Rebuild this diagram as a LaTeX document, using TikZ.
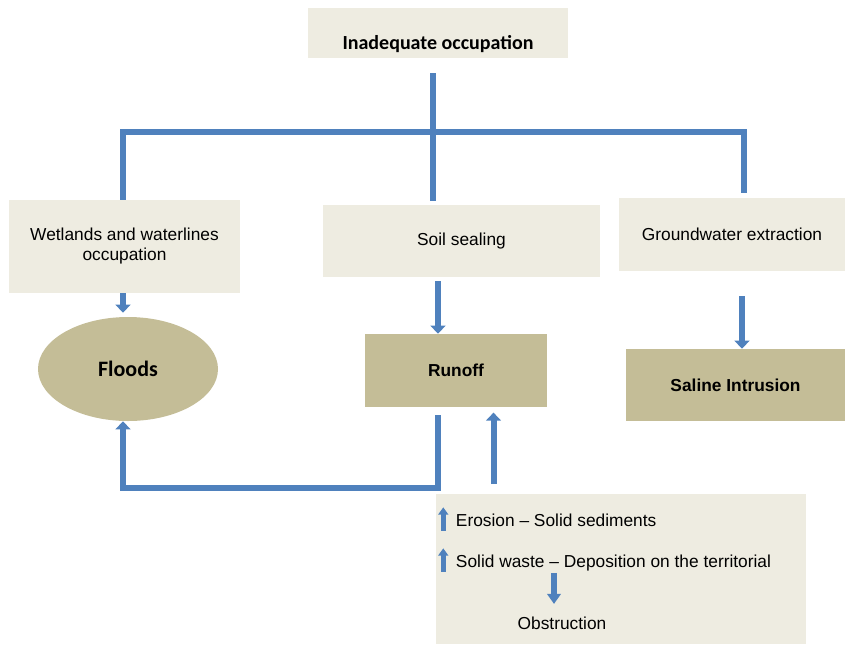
\documentclass[tikz,border=0pt]{standalone}
\usepackage{fontspec}
\setmainfont{Liberation Sans}
\newfontfamily\calib{Carlito}
\usetikzlibrary{arrows.meta,shapes.geometric,calc}
\definecolor{flowblue}{HTML}{4F81BD}
\definecolor{palefill}{HTML}{EEECE1}
\definecolor{tanfill}{HTML}{C4BD97}
\newcommand{\uparr}{\tikz[baseline=0pt]\draw[blk] (0,-3pt) -- (0,14.5pt);}

\begin{document}
\begin{tikzpicture}[
  x=0.75pt, y=-0.75pt,
  font=\fontsize{13pt}{15pt}\selectfont,
  cause/.style={fill=palefill, align=center, inner sep=2pt},
  effect/.style={fill=tanfill, align=center, inner sep=2pt,
                 font=\fontsize{13pt}{15pt}\selectfont\bfseries},
  link/.style={draw=flowblue, line width=4.5pt},
  flow/.style={link, -{Triangle[width=11pt,length=6pt]}},
  blk/.style={draw=flowblue, line width=3.5pt, -{Triangle[width=7.5pt,length=5.5pt]}},
  item/.style={anchor=west, inner sep=0pt},
]
\useasboundingbox (0,0) rectangle (846,644);
% ================= top cause =================
\node[cause, minimum width=195pt, minimum height=37.5pt, text height=24pt, text depth=0pt,
      font=\calib\bfseries\fontsize{15pt}{17pt}\selectfont] (occ) at (438,33)
     {Inadequate occupation};

% ================= second row : causes =================
\node[cause, minimum width=173.25pt, minimum height=69.75pt] (wet) at (124.5,246.5)
     {Wetlands and waterlines\\occupation};
\node[cause, minimum width=207.75pt, minimum height=54pt] (soil) at (461.5,241) {Soil sealing};
\node[cause, minimum width=169.5pt, minimum height=54.75pt] (gw) at (732,234)
     {Groundwater extraction};

% ================= third row : effects =================
\node[ellipse, fill=tanfill, minimum width=135pt, minimum height=78pt, inner sep=0pt,
      font=\calib\bfseries\fontsize{16.5pt}{18pt}\selectfont] (floods) at (128,369) {Floods};
\node[effect, minimum width=136.5pt, minimum height=54.75pt] (runoff) at (456,370.5) {Runoff};
\node[effect, minimum width=164.25pt, minimum height=54pt] (saline) at (735.5,385)
     {Saline Intrusion};

% ================= bottom box =================
\node[cause, minimum width=277.5pt, minimum height=113pt] (waste) at (621,569) {};
\node[item] (ero) at (438,519) {\uparr\ \,Erosion -- Solid sediments};
\node[item] (dep) at (438,560) {\uparr\ \,Solid waste -- Deposition on the territorial};
\node (obs) at (562,623) {Obstruction};

% ================= connectors =================
\coordinate (stem) at (432.5,73);
\coordinate (hub) at (432.5,132);
\coordinate (lft) at (123,132);
\coordinate (rgt) at (744,132);
\coordinate (c1) at (123,0);
\coordinate (c2) at (438,0);
\coordinate (c3) at (742,0);
\coordinate (c4) at (493.5,0);
\coordinate (c5) at (554,0);
\coordinate (loop) at (0,488);

\draw[link] (stem) -- (hub |- soil.north) [shorten >=3pt];
\draw[link, shorten >=-0.5pt] (lft |- wet.north) -- (lft) -- (rgt) -- ([yshift=3.75pt]rgt |- gw.north);
\draw[flow, shorten >=3pt] (wet.south -| c1) -- (floods.north -| c1);
\draw[flow, shorten <=3pt] (soil.south -| c2) -- (runoff.north -| c2);
\draw[flow, shorten <=19pt] (gw.south -| c3) -- (saline.north -| c3);
\draw[flow, shorten <=6pt] (runoff.south -| c2) -- (c2 |- loop) -- (c1 |- loop) -- (floods.south -| c1);
\draw[flow, shorten <=7pt, shorten >=4pt] (waste.north -| c4) -- (runoff.south -| c4);
\draw[blk, line width=4.5pt, -{Triangle[width=10pt,length=7.5pt]}, shorten <=-1pt, shorten >=6pt]
  (dep.south -| c5) -- (obs.north -| c5);
\end{tikzpicture}
\end{document}
